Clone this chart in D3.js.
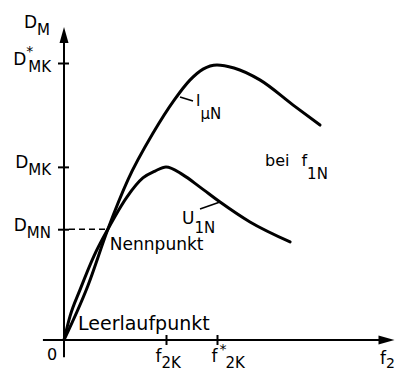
<!DOCTYPE html>
<html>
<head>
<meta charset="utf-8">
<script src="https://cdn.jsdelivr.net/npm/d3@7"></script>
<style>
  body { margin: 0; background: #fff; }
  svg text { font-family: "DejaVu Sans", sans-serif; fill: #000; }
</style>
</head>
<body>
<svg id="chart" width="397" height="372"></svg>
<script>
// Torque D_M over rotor frequency f2 (relative units), at f_1N.
// Curve for constant magnetising current I_μN
const iMuN_f = [0, 0.7, 1.29, 1.88, 2.62, 3.24, 3.71, 4.09, 4.5, 5.0, 5.76, 6.74, 7.53];
const iMuN_D = [0, 1.95, 4.0, 5.78, 7.47, 8.66, 9.39, 9.78, 9.93, 9.82, 9.39, 8.48, 7.76];
// Curve for constant stator voltage U_1N
const u1N_f = [0, 0.18, 0.47, 0.88, 1.29, 1.85, 2.32, 2.68, 3.0, 3.5, 4.0, 4.59, 5.47, 6.65];
const u1N_D = [0, 0.87, 1.81, 3.03, 4.0, 5.16, 5.85, 6.1, 6.25, 5.96, 5.52, 4.98, 4.26, 3.54];

// Axis marks
const yTickValues = [4.0, 6.25, 10];
const yTickMain = ["D", "D", "D"];
const yTickSub = ["MN", "MK", "MK"];
const yTickStar = [false, false, true];
const xTickValues = [3.0, 4.5];
const xTickMain = ["f", "f"];
const xTickSub = ["2K", "2K"];
const xTickStar = [false, true];

// Operating points
const nennPoint = { f: 1.29, D: 4.0 };
const leerPoint = { f: 0, D: 0 };

const svg = d3.select("#chart");
const x = d3.scaleLinear().domain([0, 10]).range([64, 404]);
const y = d3.scaleLinear().domain([0, 10]).range([340, 63]);

// Axis lines with arrow heads
const axes = svg.append("g").attr("stroke", "#000").attr("stroke-width", 2);
axes.append("line").attr("x1", x(-0.62)).attr("x2", x(9.4)).attr("y1", y(0)).attr("y2", y(0));
axes.append("line").attr("x1", x(0)).attr("x2", x(0)).attr("y1", y(-0.62)).attr("y2", y(10.9));
svg.append("path")
  .attr("d", `M${x(9.72)},${y(0)} l-16,-4.5 l0,9 Z`)
  .attr("fill", "#000");
svg.append("path")
  .attr("d", `M${x(0)},${y(11.3)} l-4.5,16 l9,0 Z`)
  .attr("fill", "#000");

// Y ticks crossing the axis
const yAxis = svg.append("g")
  .attr("transform", `translate(${x(0)},0)`)
  .call(d3.axisLeft(y).tickValues(yTickValues).tickSize(6).tickFormat(""));
yAxis.select(".domain").remove();
yAxis.selectAll(".tick line").attr("x2", -6).attr("x1", 5).attr("stroke-width", 2);

yAxis.selectAll(".tick").each(function (d, i) {
  const t = d3.select(this).append("text")
    .attr("x", -13).attr("y", 1)
    .attr("text-anchor", "end")
    .attr("font-size", 17)
    .text(yTickMain[i]);
  if (yTickStar[i]) {
    t.append("tspan").attr("dy", -9).attr("font-size", 14).text("*");
    t.append("tspan").attr("dx", -5).attr("dy", 16).attr("font-size", 15).text(yTickSub[i]);
  } else {
    t.append("tspan").attr("dy", 7).attr("font-size", 15).text(yTickSub[i]);
  }
});

// X ticks crossing the axis
const xLabelDx = [-11, -6];
const xAxis = svg.append("g")
  .attr("transform", `translate(0,${y(0)})`)
  .call(d3.axisBottom(x).tickValues(xTickValues).tickSize(6).tickFormat(""));
xAxis.select(".domain").remove();
xAxis.selectAll(".tick line").attr("y1", -5).attr("y2", 5).attr("stroke-width", 2);

xAxis.selectAll(".tick").each(function (d, i) {
  const t = d3.select(this).append("text")
    .attr("x", xLabelDx[i]).attr("y", 22)
    .attr("text-anchor", "start")
    .attr("font-size", 17)
    .text(xTickMain[i]);
  if (xTickStar[i]) {
    t.append("tspan").attr("dx", 2).attr("dy", -8).attr("font-size", 14).text("*");
    t.append("tspan").attr("dx", -1).attr("dy", 14).attr("font-size", 15).text(xTickSub[i]);
  } else {
    t.append("tspan").attr("dy", 6).attr("font-size", 15).text(xTickSub[i]);
  }
});

// Origin and axis titles
svg.append("text").attr("x", 47).attr("y", 360).attr("font-size", 16).text("0");
const yTitle = svg.append("text").attr("x", 24).attr("y", 28).attr("font-size", 17).text("D");
yTitle.append("tspan").attr("dy", 7).attr("font-size", 15).text("M");
const xTitle = svg.append("text").attr("x", 380).attr("y", 364).attr("font-size", 17).text("f");
xTitle.append("tspan").attr("dy", 4).attr("font-size", 14).text("2");

// Dashed guide to the rated point
svg.append("line")
  .attr("x1", x(0) + 5).attr("x2", x(nennPoint.f))
  .attr("y1", y(nennPoint.D)).attr("y2", y(nennPoint.D))
  .attr("stroke", "#000").attr("stroke-width", 1.6)
  .attr("stroke-dasharray", "6,4");

// Torque curves
const line = d3.line()
  .x(p => x(p[0]))
  .y(p => y(p[1]))
  .curve(d3.curveMonotoneX);

svg.append("path")
  .datum(d3.zip(iMuN_f, iMuN_D))
  .attr("d", line)
  .attr("fill", "none").attr("stroke", "#000")
  .attr("stroke-width", 3).attr("stroke-linecap", "round");

svg.append("path")
  .datum(d3.zip(u1N_f, u1N_D))
  .attr("d", line)
  .attr("fill", "none").attr("stroke", "#000")
  .attr("stroke-width", 3).attr("stroke-linecap", "round");

// Curve labels with leader lines
svg.append("line").attr("x1", 180).attr("y1", 97).attr("x2", 193).attr("y2", 101)
  .attr("stroke", "#000").attr("stroke-width", 1.6);
const iLab = svg.append("text").attr("x", 196).attr("y", 106).attr("font-size", 15).text("I");
iLab.append("tspan").attr("dy", 13).attr("font-size", 15).text("μN");

svg.append("line").attr("x1", 200).attr("y1", 209).attr("x2", 220).attr("y2", 202)
  .attr("stroke", "#000").attr("stroke-width", 1.6);
const uLab = svg.append("text").attr("x", 182).attr("y", 224).attr("font-size", 17).text("U");
uLab.append("tspan").attr("dy", 9).attr("font-size", 15).text("1N");

const beiLab = svg.append("text").attr("x", 265).attr("y", 166).attr("font-size", 16).text("bei");
beiLab.append("tspan").attr("dx", 12).text("f");
beiLab.append("tspan").attr("dy", 13).attr("font-size", 15).text("1N");

svg.append("text").attr("x", x(nennPoint.f) + 2).attr("y", 250).attr("font-size", 17).text("Nennpunkt");
svg.append("text").attr("x", x(leerPoint.f) + 14).attr("y", 330).attr("font-size", 19).text("Leerlaufpunkt");
</script>
</body>
</html>
